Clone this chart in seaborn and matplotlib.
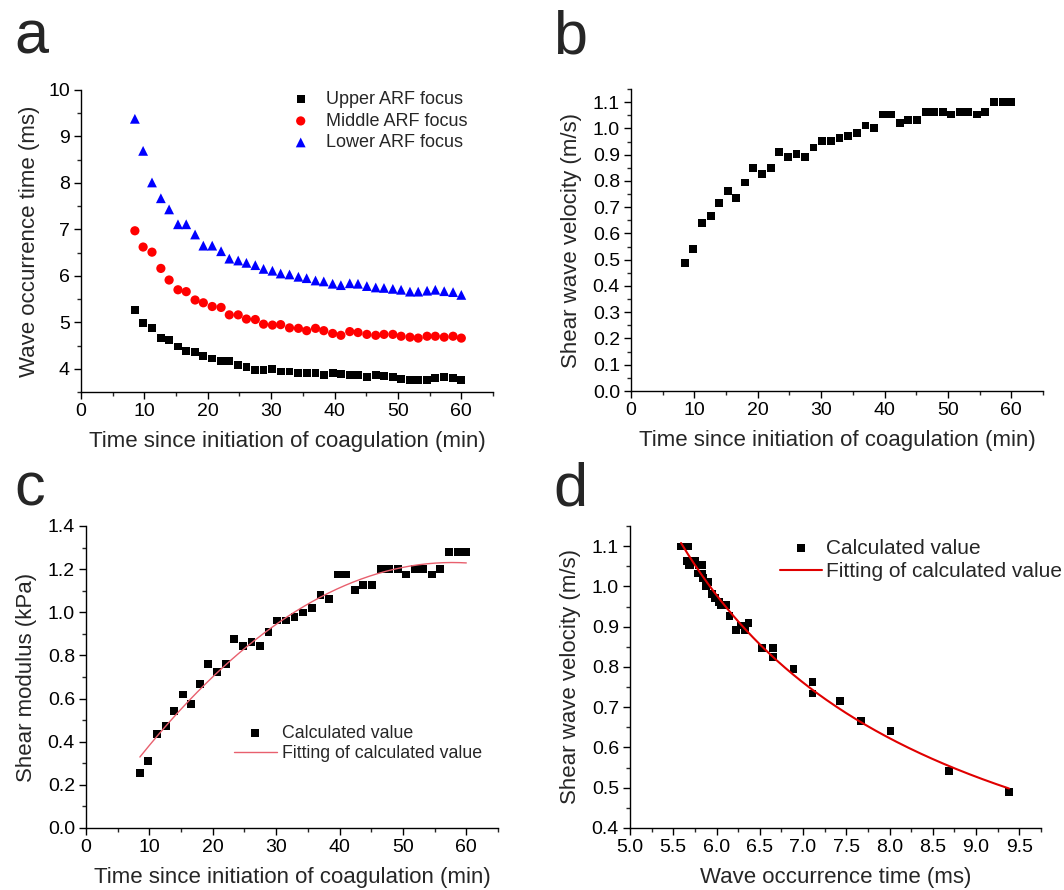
import numpy as np
import pandas as pd
import matplotlib
matplotlib.use('Agg')
import matplotlib.pyplot as plt
from matplotlib.ticker import MultipleLocator, FormatStrFormatter
import seaborn as sns

# Data
time_min = [8.5, 9.8, 11.2, 12.6, 13.9, 15.3, 16.6, 18.0, 19.3, 20.7, 22.1, 23.4, 24.8,
            26.1, 27.5, 28.8, 30.2, 31.5, 32.9, 34.3, 35.6, 37.0, 38.3, 39.7, 41.0, 42.4,
            43.7, 45.1, 46.5, 47.8, 49.2, 50.5, 51.9, 53.2, 54.6, 55.9, 57.3, 58.7, 60.0]

upper_focus = [5.27, 4.98, 4.88, 4.67, 4.62, 4.48, 4.38, 4.36, 4.28, 4.22, 4.16, 4.16, 4.08,
               4.04, 3.98, 3.98, 4.00, 3.94, 3.94, 3.90, 3.90, 3.90, 3.86, 3.90, 3.88, 3.86,
               3.86, 3.82, 3.86, 3.84, 3.82, 3.78, 3.76, 3.76, 3.76, 3.80, 3.82, 3.80, 3.76]

middle_focus = [6.97, 6.62, 6.51, 6.16, 5.91, 5.70, 5.66, 5.48, 5.42, 5.34, 5.32, 5.16, 5.16,
                5.07, 5.06, 4.96, 4.94, 4.95, 4.88, 4.87, 4.82, 4.87, 4.82, 4.76, 4.72, 4.80,
                4.78, 4.74, 4.72, 4.74, 4.74, 4.70, 4.68, 4.66, 4.70, 4.70, 4.68, 4.70, 4.66]

lower_focus = [9.38, 8.69, 8.01, 7.67, 7.43, 7.11, 7.11, 6.89, 6.65, 6.65, 6.53, 6.37, 6.33,
               6.28, 6.23, 6.15, 6.11, 6.05, 6.03, 5.98, 5.95, 5.90, 5.88, 5.83, 5.80, 5.84,
               5.83, 5.78, 5.75, 5.74, 5.72, 5.70, 5.66, 5.66, 5.68, 5.70, 5.67, 5.65, 5.59]

velocity = [0.489, 0.541, 0.641, 0.666, 0.715, 0.763, 0.734, 0.794, 0.848, 0.825, 0.848, 0.910,
            0.892, 0.903, 0.892, 0.927, 0.953, 0.953, 0.962, 0.971, 0.981, 1.011, 1.000, 1.053,
            1.053, 1.020, 1.032, 1.032, 1.063, 1.063, 1.063, 1.053, 1.063, 1.063, 1.053, 1.063,
            1.099, 1.099, 1.099]

modulus = [0.253, 0.310, 0.437, 0.472, 0.542, 0.619, 0.574, 0.668, 0.761, 0.724, 0.761, 0.877,
           0.844, 0.861, 0.844, 0.909, 0.962, 0.962, 0.980, 0.999, 1.019, 1.082, 1.060, 1.175,
           1.175, 1.104, 1.127, 1.127, 1.199, 1.199, 1.199, 1.175, 1.199, 1.199, 1.175, 1.199,
           1.280, 1.280, 1.280]

sns.set_style("ticks")
plt.rcParams['font.family'] = ['Liberation Sans', 'DejaVu Sans']
plt.rcParams['xtick.direction'] = 'out'
plt.rcParams['ytick.direction'] = 'out'

W, H = 1064, 890
fig = plt.figure(figsize=(W / 100, H / 100), dpi=100)


def make_ax(left, bottom, right, top):
    return fig.add_axes([left / W, 1 - bottom / H, (right - left) / W, (bottom - top) / H])


def style_ax(ax, xmaj, ymaj, yfmt):
    sns.despine(ax=ax)
    for s in ['left', 'bottom']:
        ax.spines[s].set_linewidth(1.0)
        ax.spines[s].set_color('black')
    ax.xaxis.set_major_locator(MultipleLocator(xmaj))
    ax.xaxis.set_minor_locator(MultipleLocator(xmaj / 2))
    ax.yaxis.set_major_locator(MultipleLocator(ymaj))
    ax.yaxis.set_minor_locator(MultipleLocator(ymaj / 2))
    ax.yaxis.set_major_formatter(FormatStrFormatter(yfmt))
    ax.tick_params(which='major', length=5, width=1, labelsize=14, colors='black', pad=3)
    ax.tick_params(which='minor', length=3, width=1)


df = pd.DataFrame({'time': time_min, 'upper': upper_focus, 'middle': middle_focus,
                   'lower': lower_focus, 'velocity': velocity, 'modulus': modulus})

# (a)
ax = make_ax(81, 392, 493, 90)
sns.scatterplot(data=df, x='time', y='upper', marker='s', s=32, color='black',
                edgecolor='none', label='Upper ARF focus', ax=ax)
sns.scatterplot(data=df, x='time', y='middle', marker='o', s=44, color='#ff0000',
                edgecolor='none', label='Middle ARF focus', ax=ax)
sns.scatterplot(data=df, x='time', y='lower', marker='^', s=50, color='#0000ff',
                edgecolor='none', label='Lower ARF focus', ax=ax)
ax.set_xlim(0, 65)
ax.set_ylim(3.5, 10)
style_ax(ax, 10, 1, '%d')
ax.set_xlabel('Time since initiation of coagulation (min)', fontsize=16, labelpad=8)
ax.set_ylabel('Wave occurrence time (ms)', fontsize=16, labelpad=6)
ax.legend(loc='upper left', bbox_to_anchor=(0.45, 1.05), frameon=False, fontsize=13,
          handletextpad=0.4, labelspacing=0.25, markerscale=1.0)

# (b)
ax = make_ax(631, 391, 1043, 89)
sns.scatterplot(data=df, x='time', y='velocity', marker='s', s=32, color='black',
                edgecolor='none', ax=ax)
ax.set_xlim(0, 65)
ax.set_ylim(0, 1.15)
style_ax(ax, 10, 0.1, '%.1f')
ax.set_xlabel('Time since initiation of coagulation (min)', fontsize=16, labelpad=8)
ax.set_ylabel('Shear wave velocity (m/s)', fontsize=16, labelpad=8)

# (c) second-order polynomial fit of the modulus
t = np.array(time_min)
g = np.array(modulus)
pc = np.polyfit(t, g, 2)
t_fit = np.linspace(t.min(), t.max(), 200)
fit_c = pd.DataFrame({'time': t_fit, 'modulus': np.polyval(pc, t_fit)})

ax = make_ax(86, 828, 498, 526)
sns.scatterplot(data=df, x='time', y='modulus', marker='s', s=32, color='black',
                edgecolor='none', label='Calculated value', ax=ax)
sns.lineplot(data=fit_c, x='time', y='modulus', color='#e8606e', lw=1.0,
             label='Fitting of calculated value', ax=ax)
ax.set_xlim(0, 65)
ax.set_ylim(0, 1.4)
style_ax(ax, 10, 0.2, '%.1f')
ax.set_xlabel('Time since initiation of coagulation (min)', fontsize=16, labelpad=8)
ax.set_ylabel('Shear modulus (kPa)', fontsize=16, labelpad=8)
ax.legend(loc='upper left', bbox_to_anchor=(0.32, 0.395), frameon=False, fontsize=12.8,
          handletextpad=0.3, handlelength=2.4, labelspacing=0.2)

# (d) velocity vs lower focus time, fitted as v = a / (t - t0)
x = np.array(lower_focus)
v = np.array(velocity)
p = np.polyfit(x, 1 / v, 1)
x_fit = np.linspace(x.min(), x.max(), 200)
fit_d = pd.DataFrame({'occ': x_fit, 'velocity': 1 / np.polyval(p, x_fit)})

ax = make_ax(630, 828, 1041, 526)
sns.scatterplot(x=lower_focus, y=velocity, marker='s', s=32, color='black',
                edgecolor='none', label='Calculated value', ax=ax)
sns.lineplot(data=fit_d, x='occ', y='velocity', color='#e00000', lw=1.5,
             label='Fitting of calculated value', ax=ax)
ax.set_xlim(5.0, 9.75)
ax.set_ylim(0.4, 1.15)
style_ax(ax, 0.5, 0.1, '%.1f')
ax.xaxis.set_major_formatter(FormatStrFormatter('%.1f'))
ax.set_xlabel('Wave occurrence time (ms)', fontsize=16, labelpad=8)
ax.set_ylabel('Shear wave velocity (m/s)', fontsize=16, labelpad=8)
ax.legend(loc='upper left', bbox_to_anchor=(0.32, 1.02), frameon=False, fontsize=15,
          handletextpad=0.2, handlelength=2.0, labelspacing=0.2)

# panel letters
for lab, px, py in [('a', 14, 53), ('b', 553, 53), ('c', 14, 505), ('d', 553, 505)]:
    fig.text(px / W, 1 - py / H, lab, fontsize=44, va='baseline', ha='left')

plt.savefig('out.png', dpi=100)
